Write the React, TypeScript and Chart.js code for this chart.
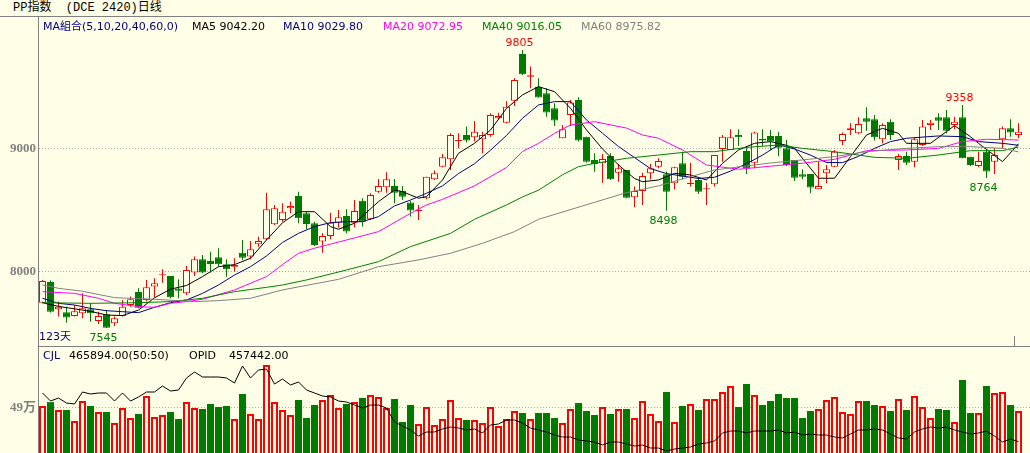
import React, { useEffect, useRef } from 'react';
import { Chart, registerables } from 'chart.js';

Chart.register(...registerables);

// ---------- data ----------
const opens = [
  7750, 7919, 7696, 7672, 7642, 7664, 7696, 7602, 7656, 7583,
  7642, 7732, 7837, 7772, 7881, 7973, 7967, 7865, 7826, 7995,
  8103, 8089, 8119, 8062, 8043, 8157, 8125, 8225, 8266, 8387,
  8423, 8518, 8618, 8477, 8396, 8247, 8293, 8401, 8455, 8401,
  8580, 8428, 8653, 8688, 8699, 8659, 8564, 8496, 8599, 8753,
  8856, 8916, 9065, 9114, 9095, 9079, 9114, 9249, 9214, 9393,
  9773, 9588, 9507, 9453, 9331, 9087, 9276, 9399, 9100, 8910,
  8883, 8943, 8807, 8829, 8607, 8658, 8802, 8856, 8794, 8721,
  8883, 8716, 8748, 8672, 8713, 9000, 8992, 9114, 8984, 8889,
  9081, 9106, 9106, 9005, 8911, 8794, 8797, 8672, 8802, 8856,
  9065, 9154, 9127, 9249, 9241, 9079, 9222, 8911, 8943, 8897,
  9033, 9195, 9257, 9257, 9195, 9257, 8937, 8862, 8978, 8897,
  9079, 9168, 9114,
];
const highs = [
  7935, 7930, 7759, 7718, 7732, 7827, 7745, 7677, 7691, 7637,
  7772, 7800, 7867, 7935, 7948, 8022, 7967, 7940, 8049, 8125,
  8138, 8165, 8192, 8103, 8111, 8260, 8252, 8287, 8645, 8545,
  8558, 8572, 8653, 8491, 8409, 8314, 8482, 8504, 8510, 8585,
  8599, 8640, 8756, 8810, 8756, 8699, 8577, 8545, 8775, 8824,
  8959, 9127, 9127, 9182, 9228, 9141, 9290, 9295, 9390, 9575,
  9805, 9670, 9575, 9493, 9371, 9195, 9399, 9420, 9100, 8965,
  8959, 8965, 8878, 8829, 8694, 8807, 8878, 8924, 8816, 8856,
  8978, 8889, 8761, 8726, 8951, 9114, 9160, 9160, 9024, 9141,
  9160, 9154, 9141, 9073, 8911, 8835, 8797, 8897, 8870, 8992,
  9133, 9209, 9257, 9340, 9276, 9209, 9241, 8959, 8978, 9095,
  9236, 9236, 9290, 9317, 9263, 9358, 8937, 8978, 8992, 9005,
  9182, 9241, 9209,
];
const lows = [
  7745, 7670, 7637, 7588, 7637, 7623, 7596, 7577, 7545, 7561,
  7637, 7718, 7704, 7759, 7794, 7913, 7786, 7786, 7813, 7967,
  7989, 7995, 8043, 7962, 8003, 8098, 8103, 8206, 8260, 8382,
  8409, 8477, 8396, 8347, 8211, 8157, 8266, 8360, 8314, 8363,
  8369, 8423, 8645, 8645, 8558, 8585, 8450, 8423, 8591, 8748,
  8851, 8829, 9005, 9052, 9060, 8965, 9100, 9241, 9209, 9350,
  9602, 9493, 9418, 9263, 9187, 9087, 9187, 9060, 8890, 8815,
  8726, 8748, 8734, 8599, 8526, 8545, 8753, 8843, 8498, 8672,
  8753, 8694, 8634, 8545, 8694, 8897, 8992, 9024, 8797, 8843,
  9024, 8992, 8940, 8862, 8740, 8753, 8640, 8672, 8721, 8851,
  9033, 9114, 9119, 9149, 9068, 9046, 9073, 8829, 8870, 8851,
  9024, 9154, 9154, 9127, 9160, 8924, 8862, 8851, 8764, 8797,
  9005, 9100, 9087,
];
const closes = [
  7927, 7677, 7718, 7629, 7680, 7705, 7664, 7642, 7547, 7623,
  7718, 7778, 7710, 7875, 7908, 7981, 7794, 7848, 8016, 8103,
  7995, 8065, 8062, 8022, 8057, 8116, 8184, 8252, 8510, 8518,
  8490, 8537, 8436, 8390, 8220, 8293, 8401, 8444, 8328, 8496,
  8409, 8626, 8699, 8753, 8645, 8612, 8499, 8504, 8775, 8802,
  8932, 9114, 9073, 9068, 9141, 9114, 9276, 9268, 9344, 9561,
  9607, 9599, 9418, 9296, 9231, 9160, 9377, 9068, 8897, 8878,
  8918, 8753, 8843, 8604, 8658, 8780, 8843, 8902, 8653, 8851,
  8775, 8726, 8653, 8680, 8951, 9100, 9095, 9095, 8843, 9133,
  9068, 9060, 9011, 8870, 8767, 8775, 8686, 8699, 8835, 8978,
  9122, 9168, 9203, 9222, 9095, 9195, 9114, 8943, 8889, 9079,
  9182, 9214, 9230, 9149, 9222, 8924, 8870, 8902, 8816, 8951,
  9168, 9133, 9141,
];
// volume in 万
const volumes = [
  51.2, 55.9, 46.8, 46.8, 34.8, 56.6, 51.2, 44.6, 44.6, 32.7,
  49.0, 38.1, 42.5, 62.1, 39.2, 41.4, 44.6, 37.0, 55.5, 49.0,
  47.9, 53.4, 50.1, 51.2, 37.0, 64.3, 42.5, 37.0, 95.8, 55.5,
  46.8, 41.4, 57.7, 38.1, 52.3, 57.7, 63.2, 49.0, 53.4, 55.5,
  59.9, 63.2, 61.0, 49.0, 58.8, 33.8, 52.3, 31.6, 50.1, 30.5,
  37.0, 57.7, 38.1, 35.9, 35.9, 32.7, 50.1, 29.4, 37.0, 45.7,
  43.6, 37.0, 43.6, 43.6, 38.1, 32.7, 47.9, 54.4, 45.7, 41.4,
  50.1, 42.5, 47.9, 47.9, 38.1, 56.6, 42.5, 34.8, 66.4, 33.8,
  51.2, 53.4, 46.8, 58.8, 58.8, 66.4, 73.0, 50.1, 75.1, 63.2,
  52.3, 56.6, 64.3, 59.9, 59.9, 38.1, 45.7, 47.9, 57.7, 61.0,
  44.6, 42.5, 56.6, 56.6, 52.3, 51.2, 45.7, 58.8, 46.8, 62.1,
  50.1, 38.1, 47.9, 46.8, 33.8, 79.5, 43.6, 43.6, 73.0, 65.3,
  66.4, 52.3, 45.7,
];
const openInterest = [
  791000, 736200, 756750, 722500, 715650, 797850, 784150, 791000, 791000, 736200,
  791000, 736200, 763600, 797850, 797850, 838950, 804700, 811550, 893750, 934850,
  900600, 900600, 900600, 893750, 859500, 975950, 893750, 948550, 955400, 852650,
  886900, 845800, 866350, 811550, 791000, 770450, 763600, 736200, 729350, 708800,
  688250, 708800, 708800, 688250, 592350, 564950, 537550, 496450, 523850, 523850,
  544400, 558100, 551250, 537550, 544400, 517000, 571800, 578650, 606050, 606050,
  585500, 551250, 537550, 523850, 503300, 489600, 489600, 469050, 462200, 455350,
  434800, 455350, 455350, 441650, 427950, 434800, 414250, 414250, 393700, 407400,
  414250, 421100, 441650, 448500, 462200, 517000, 530700, 530700, 517000, 530700,
  530700, 530700, 537550, 517000, 523850, 503300, 510150, 503300, 503300, 489600,
  482750, 510150, 537550, 537550, 544400, 537550, 510150, 482750, 475900, 523850,
  544400, 558100, 551250, 558100, 537550, 523850, 510150, 517000, 530700, 496450,
  455350, 475900, 457442,
];

// moving-average lines: [day index, value]
const ma5Points: [number, number][] = [
  [0, 7750], [2, 7720], [4, 7700], [6, 7680], [8, 7650], [10, 7645], [12, 7690], [14, 7790],
  [16, 7860], [18, 7890], [20, 7962], [22, 8043], [24, 8060], [26, 8111], [28, 8260], [30, 8400],
  [32, 8490], [34, 8490], [36, 8369], [37, 8347], [39, 8396], [42, 8572], [44, 8667], [45, 8653],
  [46, 8626], [47, 8600], [48, 8613], [50, 8748], [52, 8965], [54, 9046], [56, 9154], [58, 9330],
  [60, 9440], [62, 9507], [64, 9466], [66, 9331], [68, 9155], [70, 9000], [72, 8870], [74, 8760],
  [75, 8734], [77, 8748], [79, 8802], [81, 8789], [83, 8748], [85, 8883], [87, 8992], [89, 9046],
  [91, 9060], [93, 9030], [94, 9005], [97, 8762], [99, 8762], [101, 8938], [103, 9114], [105, 9168],
  [107, 9127], [108, 9046], [111, 9046], [114, 9190], [116, 9100], [117, 9046], [120, 8897], [122, 9042],
];
const ma10Points: [number, number][] = [
  [0, 7786], [2, 7745], [4, 7731], [6, 7704], [8, 7685], [10, 7677], [12, 7669], [14, 7713],
  [16, 7750], [18, 7772], [20, 7826], [22, 7894], [24, 7975], [26, 8043], [28, 8130], [30, 8240],
  [32, 8314], [34, 8369], [36, 8401], [38, 8409], [40, 8409], [42, 8450], [44, 8537], [46, 8585],
  [48, 8640], [50, 8700], [52, 8800], [54, 8880], [56, 8990], [58, 9110], [60, 9250], [62, 9358],
  [64, 9385], [66, 9385], [68, 9236], [70, 9128], [72, 9020], [74, 8930], [76, 8840], [78, 8800],
  [80, 8780], [82, 8760], [84, 8770], [86, 8820], [88, 8880], [90, 8950], [92, 9033], [94, 9000],
  [96, 8950], [98, 8890], [100, 8889], [102, 8940], [104, 9005], [106, 9060], [108, 9087], [112, 9106],
  [115, 9100], [117, 9060], [120, 9046], [122, 9030],
];
const ma20Points: [number, number][] = [
  [0, 7840], [4, 7826], [7, 7786], [9, 7745], [12, 7718], [14, 7713], [16, 7745], [18, 7759],
  [20, 7778], [24, 7854], [28, 7962], [30, 8060], [32, 8152], [34, 8193], [38, 8260], [42, 8328],
  [46, 8477], [48, 8545], [50, 8590], [54, 8700], [58, 8850], [60, 8980], [62, 9046], [64, 9127],
  [66, 9195], [69, 9222], [73, 9170], [75, 9114], [77, 9087], [80, 8992], [83, 8870], [87, 8835],
  [91, 8860], [95, 8884], [99, 8916], [103, 8986], [108, 8992], [112, 9005], [115, 9060], [118, 9079],
  [122, 9073],
];
const ma40Points: [number, number][] = [
  [0, 7750], [6, 7745], [12, 7750], [16, 7759], [20, 7786], [24, 7840], [28, 7875], [30, 7894],
  [33, 7935], [38, 8016], [42, 8084], [46, 8206], [51, 8314], [54, 8428], [58, 8545], [60, 8610],
  [62, 8665], [65, 8790], [67, 8856], [69, 8883], [73, 8924], [77, 8951], [81, 8978], [84, 8978],
  [88, 9013], [92, 9032], [95, 9005], [99, 8978], [104, 8932], [108, 8924], [112, 8951], [116, 8986],
  [120, 8986], [122, 9016],
];
const ma60Points: [number, number][] = [
  [0, 7894], [2, 7867], [5, 7843], [9, 7791], [14, 7778], [19, 7759], [22, 7767], [26, 7786],
  [30, 7854], [37, 7940], [42, 8043], [47, 8098], [51, 8152], [55, 8233], [59, 8328], [62, 8428],
  [73, 8645], [77, 8700], [81, 8775], [84, 8829], [88, 8862], [91, 8886], [95, 8911], [99, 8938],
  [103, 8978], [108, 9005], [112, 9019], [116, 9019], [120, 9005], [122, 8976],
];

const priceTicks = [8000, 9000];
const volumeTicks = [49];
const maLegendTexts = ['MA5 9042.20', 'MA10 9029.80', 'MA20 9072.95', 'MA40 9016.05', 'MA60 8975.82'];
// extreme-price marks: [day index, 'high' | 'low']
const extremeMarks: [number, 'high' | 'low'][] = [[60, 'high'], [115, 'high'], [78, 'low'], [118, 'low'], [8, 'low']];

// ---------- styles ----------
const BG = '#FFFFE8';
const RED = '#FF0000';
const GREEN = '#007A00';
const NAVY = '#000080';
const MAGENTA = '#FF00FF';
const MA40C = '#008000';
const GRAY = '#808080';
const SANS = '"DejaVu Sans", "Noto Sans CJK SC", sans-serif';

const idx = opens.map((_, i) => i);
const isUp = (i: number) => closes[i] >= opens[i];

const X_MIN = -0.4375;
const X_MAX = 123.4375;

const axisFit = (s: any) => {
  s.width = 39;
  s.paddingTop = 0;
  s.paddingBottom = 0;
};

const extremePlugin = {
  id: 'extremes',
  afterDatasetsDraw(chart: any) {
    const { ctx } = chart;
    const x = chart.scales.x;
    const y = chart.scales.y;
    ctx.save();
    ctx.font = `11px ${SANS}`;
    ctx.textAlign = 'center';
    ctx.textBaseline = 'alphabetic';
    extremeMarks.forEach(([i, kind]) => {
      const v = kind === 'high' ? highs[i] : lows[i];
      const px = x.getPixelForValue(i) - 3;
      const py = y.getPixelForValue(v);
      ctx.fillStyle = kind === 'high' ? RED : GREEN;
      ctx.fillText(String(v), px, kind === 'high' ? py - 4 : py + 13);
    });
    ctx.restore();
  },
};

const lineDs = (pts: [number, number][], color: string) => ({
  type: 'line' as const,
  data: pts.map(([x, y]) => ({ x, y })),
  borderColor: color,
  borderWidth: 1,
  pointRadius: 0,
  tension: 0,
  order: 0,
});

export default function App() {
  const mainRef = useRef<HTMLCanvasElement>(null);
  const volRef = useRef<HTMLCanvasElement>(null);

  useEffect(() => {
    const main = new Chart(mainRef.current as HTMLCanvasElement, {
      type: 'bar',
      data: {
        datasets: [
          lineDs(ma60Points, GRAY),
          lineDs(ma40Points, MA40C),
          lineDs(ma20Points, MAGENTA),
          lineDs(ma10Points, NAVY),
          lineDs(ma5Points, '#000000'),
          {
            type: 'bar',
            data: idx.map((i) => ({ x: i, y: [opens[i], closes[i]] })),
            backgroundColor: idx.map((i) => (isUp(i) ? BG : GREEN)),
            borderColor: idx.map((i) => (isUp(i) ? RED : GREEN)),
            borderWidth: 1,
            borderSkipped: false,
            barThickness: 7,
            minBarLength: 1,
            inflateAmount: 0,
            grouped: false,
            order: 1,
          } as any,
          {
            type: 'bar',
            data: idx.map((i) => ({ x: i, y: [lows[i], highs[i]] })),
            backgroundColor: idx.map((i) => (isUp(i) ? RED : GREEN)),
            borderWidth: 0,
            barThickness: 1,
            inflateAmount: 0,
            grouped: false,
            order: 2,
          } as any,
        ],
      },
      options: {
        responsive: false,
        animation: false,
        events: [],
        layout: { padding: 0 },
        plugins: { legend: { display: false }, tooltip: { enabled: false } },
        scales: {
          x: { type: 'linear', min: X_MIN, max: X_MAX, display: false, offset: false, bounds: 'data' },
          y: {
            type: 'linear',
            position: 'left',
            min: 7398,
            max: 10065,
            bounds: 'data',
            afterBuildTicks: (s: any) => {
              s.ticks = priceTicks.map((value) => ({ value }));
            },
            afterFit: axisFit,
            ticks: {
              color: GRAY,
              padding: 3,
              font: { family: '"Liberation Serif", serif', size: 13, weight: 'bold' },
              callback: (v: any) => String(v),
            },
            grid: { color: '#A8A8A8', drawTicks: false, lineWidth: 1 },
            border: { display: false, dash: [1, 2] },
          },
        },
      } as any,
      plugins: [extremePlugin],
    });

    const vol = new Chart(volRef.current as HTMLCanvasElement, {
      type: 'bar',
      data: {
        datasets: [
          {
            type: 'line',
            data: idx.map((i) => ({ x: i, y: openInterest[i] })),
            yAxisID: 'y2',
            borderColor: '#000000',
            borderWidth: 1,
            pointRadius: 0,
            tension: 0,
            order: 0,
          } as any,
          {
            type: 'bar',
            data: idx.map((i) => ({ x: i, y: volumes[i] })),
            backgroundColor: idx.map((i) => (isUp(i) ? BG : GREEN)),
            borderColor: idx.map((i) => (isUp(i) ? RED : GREEN)),
            borderWidth: idx.map((i) => (isUp(i) ? 2 : 1)),
            barThickness: 7,
            inflateAmount: 0,
            grouped: false,
            order: 1,
          } as any,
        ],
      },
      options: {
        responsive: false,
        animation: false,
        events: [],
        layout: { padding: 0 },
        plugins: { legend: { display: false }, tooltip: { enabled: false } },
        scales: {
          x: { type: 'linear', min: X_MIN, max: X_MAX, display: false, offset: false, bounds: 'data' },
          y: {
            type: 'linear',
            position: 'left',
            min: 0,
            max: 115.4,
            bounds: 'data',
            afterBuildTicks: (s: any) => {
              s.ticks = volumeTicks.map((value) => ({ value }));
            },
            afterFit: axisFit,
            ticks: {
              color: GRAY,
              padding: 3,
              font: { family: '"Liberation Serif", "Noto Sans CJK SC", serif', size: 13, weight: 'bold' },
              callback: (v: any) => `${v}万`,
            },
            grid: { color: '#A8A8A8', drawTicks: false, lineWidth: 1 },
            border: { display: false, dash: [1, 2] },
          },
          y2: { type: 'linear', display: false, min: 380000, max: 1106100, bounds: 'data' },
        },
      } as any,
    });

    return () => {
      main.destroy();
      vol.destroy();
    };
  }, []);

  const text = (left: number, top: number, color: string, t: string, extra: any = {}) => (
    <div
      style={{
        position: 'absolute',
        left,
        top,
        color,
        whiteSpace: 'pre',
        font: `11px ${SANS}`,
        lineHeight: '11px',
        zIndex: 2,
        ...extra,
      }}
    >
      {t}
    </div>
  );

  const legendLeft = [192, 283, 383, 482, 581];
  const legendColor = ['#000000', NAVY, MAGENTA, MA40C, GRAY];

  return (
    <div style={{ position: 'relative', width: 1030, height: 453, background: BG, overflow: 'hidden' }}>
      <style>{'body{margin:0;}'}</style>
      <canvas ref={mainRef} width={1030} height={328} style={{ position: 'absolute', left: 0, top: 18 }} />
      <canvas ref={volRef} width={1030} height={106} style={{ position: 'absolute', left: 0, top: 347 }} />
      {/* frame lines */}
      <div style={{ position: 'absolute', left: 0, top: 16, width: 1030, height: 1, background: GRAY, zIndex: 1 }} />
      <div style={{ position: 'absolute', left: 38, top: 16, width: 1, height: 437, background: GRAY, zIndex: 1 }} />
      <div style={{ position: 'absolute', left: 38, top: 346, width: 992, height: 1, background: GRAY, zIndex: 1 }} />
      <div style={{ position: 'absolute', left: 1014, top: 336, width: 1, height: 10, background: GRAY, zIndex: 1 }} />
      {/* title */}
      {text(13, 2, '#000000', 'PP指数  (DCE 2420)日线', { font: `12px "Liberation Mono", "Noto Sans CJK SC", monospace`, lineHeight: '12px' })}
      {/* MA legend */}
      {text(43, 21, NAVY, 'MA組合(5,10,20,40,60,0)')}
      {maLegendTexts.map((t, k) => (
        <React.Fragment key={t}>{text(legendLeft[k], 21, legendColor[k], t)}</React.Fragment>
      ))}
      {text(39, 331, NAVY, '123天')}
      {/* volume header */}
      {text(43, 350, NAVY, 'CJL')}
      {text(69, 350, '#000000', '465894.00(50:50)')}
      {text(189, 350, '#000000', 'OPID')}
      {text(229, 350, '#000000', '457442.00')}
    </div>
  );
}
